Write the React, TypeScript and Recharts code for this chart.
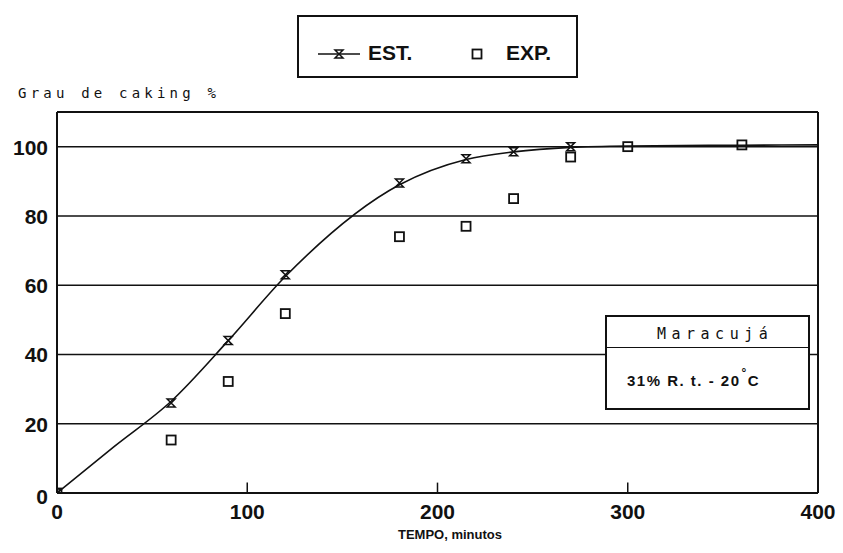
import { ComposedChart, Line, Scatter, XAxis, YAxis, CartesianGrid, ReferenceLine, Legend } from 'recharts';

// Grau de caking (%) vs tempo (min) - Maracujá, 31% R.t., 20°C
const estTempo = [0, 60, 90, 120, 180, 215, 240, 270];
const estGrau = [0, 26, 44, 63, 89.5, 96.5, 98.5, 100];

const expTempo = [0, 60, 90, 120, 180, 215, 240, 270, 300, 360];
const expGrau = [0, 15.3, 32.2, 51.8, 74, 77, 85, 97, 100, 100.5];

// fitted curve
const curveTempo = [0, 30, 60, 90, 120, 180, 215, 240, 270, 300, 360, 400];
const curveGrau = [0, 13.4, 26.5, 44, 62.5, 89, 96.3, 98.5, 99.8, 100.2, 100.4, 100.5];

const xTicks = [0, 100, 200, 300, 400];
const yTicks = [0, 20, 40, 60, 80, 100];
const innerTicks = [100, 200, 300];

const estData = estTempo.map((t, i) => ({ t, v: estGrau[i] }));
const expData = expTempo.map((t, i) => ({ t, v: expGrau[i] }));
const curveData = curveTempo.map((t, i) => ({ t, v: curveGrau[i] }));

const INK = '#111';
const SANS = '"Liberation Sans", Arial, sans-serif';
const MONO = '"DejaVu Sans Mono", monospace';

const EstMark = (p: any) => {
  const { cx, cy } = p;
  return (
    <path
      d={`M${cx - 4},${cy - 4} L${cx + 4},${cy - 4} L${cx - 4},${cy + 4} L${cx + 4},${cy + 4} Z`}
      fill="none"
      stroke={INK}
      strokeWidth={1.5}
    />
  );
};

const ExpMark = (p: any) => {
  const { cx, cy } = p;
  return <rect x={cx - 4.5} y={cy - 4.5} width={9} height={9} fill="none" stroke={INK} strokeWidth={1.8} />;
};

const XTick = (p: any) => (
  <text x={p.x} y={p.y + 18} textAnchor="middle" fontFamily={SANS} fontWeight="bold" fontSize={21} fill={INK}>
    {p.payload.value}
  </text>
);

const YTick = (p: any) => (
  <text
    x={48}
    y={p.y + (p.payload.value === 0 ? 11 : 8)}
    textAnchor="end"
    fontFamily={SANS}
    fontWeight="bold"
    fontSize={21}
    fill={INK}
  >
    {p.payload.value}
  </text>
);

const LegendBox = () => (
  <div
    style={{
      width: 281,
      height: 63,
      boxSizing: 'border-box',
      border: `2px solid ${INK}`,
      background: '#fff',
      position: 'relative',
      fontFamily: SANS,
      fontSize: 21,
      fontWeight: 'bold',
      color: INK,
    }}
  >
    <svg width={50} height={20} style={{ position: 'absolute', left: 19, top: 27 }}>
      <line x1={0} y1={10} x2={42} y2={10} stroke={INK} strokeWidth={1.5} />
      <path d="M17,6 L25,6 L17,14 L25,14 Z" fill="#fff" stroke={INK} strokeWidth={1.5} />
    </svg>
    <span style={{ position: 'absolute', left: 69, top: 24 }}>EST.</span>
    <svg width={12} height={12} style={{ position: 'absolute', left: 172, top: 31 }}>
      <rect x={1.5} y={1.5} width={9} height={9} fill="none" stroke={INK} strokeWidth={1.8} />
    </svg>
    <span style={{ position: 'absolute', left: 207, top: 24 }}>EXP.</span>
  </div>
);

export default function App() {
  return (
    <div style={{ position: 'absolute', left: 0, top: 0, width: 843, height: 553, background: '#fff' }}>
      <ComposedChart width={843} height={553} margin={{ top: 112, right: 25, bottom: 30, left: 0 }}>
        <CartesianGrid horizontal vertical={false} horizontalValues={[20, 40, 60, 80, 100]} stroke={INK} strokeWidth={1.5} />
        <XAxis
          type="number"
          dataKey="t"
          domain={[0, 400]}
          ticks={xTicks}
          allowDataOverflow
          height={30}
          axisLine={{ stroke: INK, strokeWidth: 2 }}
          tickLine={false}
          tick={<XTick />}
        />
        <YAxis
          type="number"
          dataKey="v"
          domain={[0, 110]}
          ticks={yTicks}
          allowDataOverflow
          width={57}
          axisLine={{ stroke: INK, strokeWidth: 2 }}
          tickLine={false}
          tick={<YTick />}
        />
        <ReferenceLine y={110} stroke={INK} strokeWidth={2} />
        <ReferenceLine x={400} stroke={INK} strokeWidth={2} />
        {innerTicks.map((t) => (
          <ReferenceLine key={t} segment={[{ x: t, y: 0 }, { x: t, y: 3 }]} stroke={INK} strokeWidth={1.5} />
        ))}
        <Line
          data={curveData}
          dataKey="v"
          type="monotone"
          stroke={INK}
          strokeWidth={1.6}
          dot={false}
          activeDot={false}
          isAnimationActive={false}
          legendType="none"
        />
        <Scatter name="EST." data={estData} dataKey="v" shape={<EstMark />} isAnimationActive={false} />
        <Scatter name="EXP." data={expData} dataKey="v" shape={<ExpMark />} isAnimationActive={false} />
        <Legend
          layout="horizontal"
          verticalAlign="middle"
          align="center"
          content={<LegendBox />}
          wrapperStyle={{ position: 'absolute', left: 297, top: 15, width: 281, height: 63 }}
        />
      </ComposedChart>

      <div
        style={{
          position: 'absolute',
          left: 18,
          top: 85,
          fontFamily: MONO,
          fontSize: 14,
          letterSpacing: 4.2,
          color: INK,
          whiteSpace: 'nowrap',
        }}
      >
        Grau de caking %
      </div>

      <div
        style={{
          position: 'absolute',
          left: 398,
          top: 527,
          width: 100,
          textAlign: 'center',
          fontFamily: SANS,
          fontWeight: 'bold',
          fontSize: 13,
          color: INK,
          whiteSpace: 'nowrap',
        }}
      >
        TEMPO, minutos
      </div>

      <div
        style={{
          position: 'absolute',
          left: 605,
          top: 315,
          width: 205,
          height: 95,
          boxSizing: 'border-box',
          border: `2px solid ${INK}`,
          background: '#fff',
          color: INK,
        }}
      >
        <div
          style={{
            position: 'absolute',
            left: 50,
            top: 8,
            fontFamily: MONO,
            fontSize: 15,
            letterSpacing: 5.5,
            whiteSpace: 'nowrap',
          }}
        >
          Maracujá
        </div>
        <div style={{ position: 'absolute', left: 0, right: 0, top: 30, borderTop: `1.5px solid ${INK}` }} />
        <div
          style={{
            position: 'absolute',
            left: 20,
            top: 55,
            fontFamily: SANS,
            fontWeight: 'bold',
            fontSize: 15,
            letterSpacing: 1.5,
            whiteSpace: 'nowrap',
          }}
        >
          31% R. t. - 20
          <span style={{ position: 'relative', top: -9, fontSize: 12, marginLeft: 1 }}>°</span>C
        </div>
      </div>
    </div>
  );
}
